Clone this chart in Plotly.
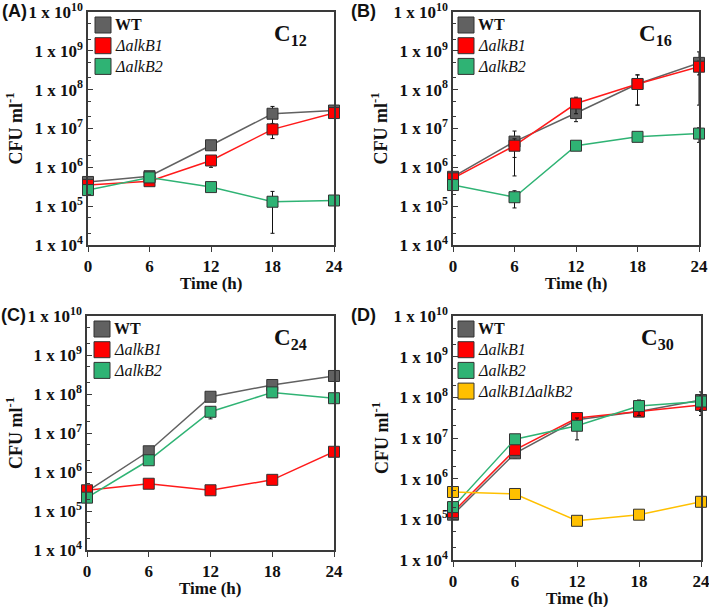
import plotly.graph_objects as go

W, H = 709, 607

time_h = [0, 6, 12, 18, 24]
series_names = ["WT", "ΔalkB1", "ΔalkB2", "ΔalkB1ΔalkB2"]
panel_labels = ["(A)", "(B)", "(C)", "(D)"]
substrates = ["C<sub>12</sub>", "C<sub>16</sub>", "C<sub>24</sub>", "C<sub>30</sub>"]
ytick_vals = [1e4, 1e5, 1e6, 1e7, 1e8, 1e9, 1e10]
ytick_text = ["1 x 10<sup>4</sup>", "1 x 10<sup>5</sup>", "1 x 10<sup>6</sup>", "1 x 10<sup>7</sup>",
              "1 x 10<sup>8</sup>", "1 x 10<sup>9</sup>", "1 x 10<sup>10</sup>"]

# Panel A (C12)
a_wt = [4.2e5, 5.9e5, 3.7e6, 2.4e7, 2.9e7]
a_wt_err = [1e5, 5e4, 5e5, 1.3e7, 1e7]
a_b1 = [3.5e5, 4.4e5, 1.5e6, 9.5e6, 2.5e7]
a_b1_err = [5e4, 5e4, 5e5, 4e6, 5e6]
a_b2 = [2.6e5, 5.5e5, 3.1e5, 1.3e5, 1.4e5]
a_b2_err = [5e4, 5e4, 5e4, 1.1e5, 3e4]

# Panel B (C16)
b_wt = [5.7e5, 4.6e6, 2.5e7, 1.4e8, 4.9e8]
b_wt_err = [1e5, 4e6, 1e7, 1e8, 4.5e8]
b_b1 = [5.2e5, 3.6e6, 4.4e7, 1.4e8, 3.9e8]
b_b1_err = [1e5, 1.8e6, 2e7, 1e8, 1.5e8]
b_b2 = [3.5e5, 1.7e5, 3.6e6, 6.1e6, 7.4e6]
b_b2_err = [5e4, 8e4, 5e5, 1e6, 3e6]

# Panel C (C24)
c_wt = [3.2e5, 3.4e6, 8.5e7, 1.7e8, 2.9e8]
c_wt_err = [5e4, 5e5, 1e7, 2e7, 3e7]
c_b1 = [3.4e5, 5.0e5, 3.4e5, 6.3e5, 3.3e6]
c_b1_err = [5e4, 1e5, 5e4, 1.5e5, 5e5]
c_b2 = [2.2e5, 2.0e6, 3.5e7, 1.1e8, 7.8e7]
c_b2_err = [5e4, 3e5, 1.2e7, 2e7, 2e7]

# Panel D (C30)
d_wt = [1.3e5, 4.2e6, 2.8e7, 4.5e7, 8.6e7]
d_wt_err = [3e4, 1e6, 1e7, 1e7, 5e7]
d_b1 = [1.5e5, 5.1e6, 3.1e7, 4.5e7, 6.5e7]
d_b1_err = [3e4, 1e6, 1.1e7, 1e7, 2e7]
d_b2 = [2.0e5, 9.3e6, 2.0e7, 6.1e7, 7.9e7]
d_b2_err = [5e4, 1e6, 1.1e7, 2.5e7, 3e7]
d_b12 = [4.7e5, 4.2e5, 9.2e4, 1.3e5, 2.7e5]
d_b12_err = [5e4, 5e4, 1e4, 3e4, 5e4]

colors = ["#616161", "#ff0000", "#2fb374", "#ffc000"]
line_colors = ["#616161", "#ff1a1a", "#2fb374", "#ffc000"]

panels = [
    [(a_wt, a_wt_err), (a_b1, a_b1_err), (a_b2, a_b2_err)],
    [(b_wt, b_wt_err), (b_b1, b_b1_err), (b_b2, b_b2_err)],
    [(c_wt, c_wt_err), (c_b1, c_b1_err), (c_b2, c_b2_err)],
    [(d_wt, d_wt_err), (d_b1, d_b1_err), (d_b2, d_b2_err), (d_b12, d_b12_err)],
]

# pixel boxes: (left, right, top, bottom)
boxes = [(88, 334, 12, 245), (453, 699, 12, 245), (87, 334, 316, 550), (453, 701, 316, 560)]

SERIF = "Liberation Serif"
fig = go.Figure()
layout = dict(width=W, height=H, margin=dict(l=0, r=0, t=0, b=0, autoexpand=False),
              paper_bgcolor="white", plot_bgcolor="white", annotations=[], shapes=[],
              showlegend=False)

def legend_name(name):
    if name == "WT":
        return "<b>WT</b>"
    return "<i>" + name + "</i>"

def ann(text, x, y, size, family=SERIF, xanchor="center", yanchor="middle", angle=0):
    layout["annotations"].append(dict(
        text=text, xref="paper", yref="paper", x=x / W, y=1 - y / H,
        xanchor=xanchor, yanchor=yanchor, textangle=angle, showarrow=False,
        font=dict(family=family, size=size, color="#111111")))

for p, data in enumerate(panels):
    k = p + 1
    xa = "x" if k == 1 else f"x{k}"
    ya = "y" if k == 1 else f"y{k}"
    for s, (vals, errs) in enumerate(data):
        fig.add_trace(go.Scatter(
            x=time_h, y=vals, xaxis=xa, yaxis=ya, mode="lines+markers",
            name=series_names[s],
            line=dict(color=line_colors[s], width=1.5),
            marker=dict(symbol="square", size=11, color=colors[s],
                        line=dict(color="#333333", width=1)),
            error_y=dict(type="data", array=errs, color="#111111", thickness=1, width=2),
            cliponaxis=False))
    l, r, t, b = boxes[p]
    xdom = [l / W, r / W]
    ydom = [1 - b / H, 1 - t / H]
    axis_line = dict(showline=True, linecolor="#3a3a3a", linewidth=1.5, mirror=True,
                     showgrid=False, zeroline=False, ticklabeloverflow="allow")
    layout["xaxis" if k == 1 else f"xaxis{k}"] = dict(
        domain=xdom, anchor=ya, range=[0, 24], tickvals=time_h,
        ticks="outside", ticklen=5, tickcolor="#3a3a3a",
        tickfont=dict(family=SERIF, size=17, color="#111111", weight="bold"), **axis_line)
    layout["yaxis" if k == 1 else f"yaxis{k}"] = dict(
        domain=ydom, anchor=xa, type="log", range=[4, 10],
        tickvals=ytick_vals, ticktext=ytick_text, ticks="inside", ticklen=5,
        tickcolor="#3a3a3a",
        minor=dict(ticks="inside", ticklen=3, tickcolor="#3a3a3a", showgrid=False),
        tickfont=dict(family=SERIF, size=17, color="#111111", weight="bold"), **axis_line)
    # legend (squares + labels)
    for s in range(len(data)):
        top = t + 5 + 20.7 * s
        lx = l + 7 if p in (0, 2) else l + 5
        layout["shapes"].append(dict(
            type="rect", xref="paper", yref="paper",
            x0=lx / W, x1=(lx + 16) / W, y0=1 - (top + 16) / H, y1=1 - top / H,
            fillcolor=colors[s], line=dict(color="#333333", width=1)))
        ann(legend_name(series_names[s]), lx + 18, top + 8, 16, xanchor="left")
    ann("<b>CFU ml<sup>-1</sup></b>", l - 73, (t + b) / 2, 18, angle=-90)
    ann("<b>Time (h)</b>", (l + r) / 2, b + (38 if p == 3 else 38), 17)
    ann("<b>" + substrates[p] + "</b>", r - 44, t + 23, 23)
    ann("<b>" + panel_labels[p] + "</b>", (l - 88) if p in (0, 2) else (l - 104), t - 1, 18,
        family="Liberation Sans", xanchor="left")

fig.update_layout(**layout)
fig.write_html("out.html", post_script="document.body.style.margin='0px';",
               config={"displayModeBar": False})
